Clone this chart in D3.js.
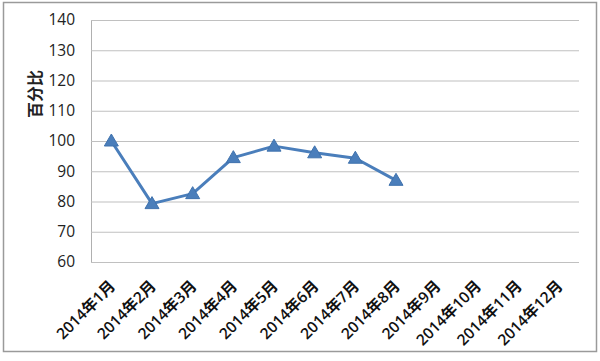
<!DOCTYPE html>
<html><head><meta charset="utf-8">
<script src="https://cdn.jsdelivr.net/npm/d3@7"></script>
<style>body{margin:0;background:#fff}svg{display:block}</style>
</head><body>
<svg id="c" width="600" height="361"></svg>
<script>
const categories = ["2014年1月","2014年2月","2014年3月","2014年4月","2014年5月","2014年6月","2014年7月","2014年8月","2014年9月","2014年10月","2014年11月","2014年12月"];
const values = [100, 79.3, 82.6, 94.5, 98.3, 96.1, 94.3, 87.0];
const yTicks = [60,70,80,90,100,110,120,130,140];
const yLabel = "百分比";

const svg = d3.select("#c");
const L = 91, R = 579, T = 20, B = 262;
svg.append("rect").attr("x",3.5).attr("y",2.5).attr("width",593).attr("height",349)
  .attr("fill","#fff").attr("stroke","#9a9a9a").attr("stroke-width",1.5);

const x = d3.scaleBand().domain(categories).range([L,R]);
const y = d3.scaleLinear().domain([60,140]).range([B,T]);

const gy = svg.append("g").attr("transform",`translate(${L},0)`)
  .call(d3.axisLeft(y).tickValues(yTicks).tickSize(-(R-L)).tickPadding(16));
gy.select(".domain").attr("stroke","#b0b0b0");
gy.selectAll(".tick line").attr("stroke","#c0c0c0").attr("stroke-width",1.2);
gy.selectAll(".tick text").attr("font-family","'Open Sans',sans-serif").attr("font-size",15.5).attr("fill","#222");

const gx = svg.append("g").attr("transform",`translate(0,${B})`)
  .call(d3.axisBottom(x).tickSize(0).tickPadding(0));
gx.select(".domain").remove();
gx.selectAll(".tick text")
  .attr("font-family","'Open Sans','Noto Sans CJK SC',sans-serif").attr("font-size",15.5).attr("font-weight",600).attr("fill","#111")
  .attr("text-anchor","end").attr("dy",0).attr("y",0)
  .attr("transform","translate(5,25) rotate(-45)");

svg.append("text").attr("transform","translate(41,94) rotate(-90)")
  .attr("text-anchor","middle").attr("font-family","'Noto Sans CJK SC',serif")
  .attr("font-size",16).attr("font-weight",700).attr("fill","#222").text(yLabel);

const cx = i => x(categories[i]) + x.bandwidth()/2;
const line = d3.line().x((d,i)=>cx(i)).y(d=>y(d));
svg.append("path").datum(values).attr("d",line).attr("fill","none")
  .attr("stroke","#4a7ebb").attr("stroke-width",3).attr("stroke-linejoin","round");
svg.selectAll(".m").data(values).enter().append("path")
  .attr("transform",(d,i)=>`translate(${cx(i)},${y(d)})`)
  .attr("d","M0,-7 L7,5 L-7,5 Z").attr("fill","#4a7ebb").attr("stroke","#3f72ad").attr("stroke-width",1);
</script>
</body></html>
